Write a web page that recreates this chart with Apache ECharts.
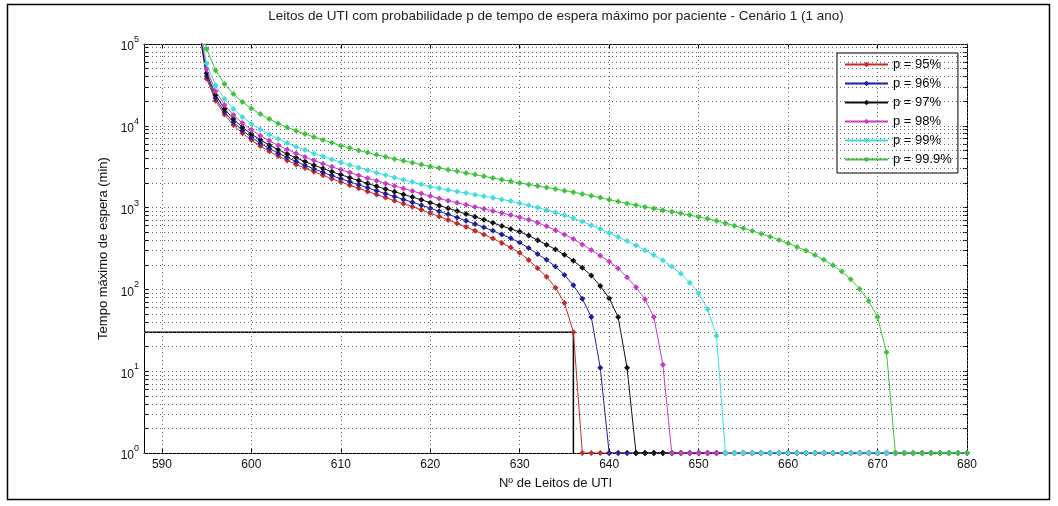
<!DOCTYPE html>
<html>
<head>
<meta charset="utf-8">
<script src="https://cdn.jsdelivr.net/npm/echarts@6/dist/echarts.min.js"></script>
<style>
  html, body { margin: 0; padding: 0; background: #fff; }
  #chart { width: 1058px; height: 506px; }
</style>
</head>
<body>
<div id="chart"></div>
<script>
// Nº de leitos (eixo x)
const leitos = [594,595,596,597,598,599,600,601,602,603,604,605,606,607,608,609,610,611,612,613,614,615,616,617,618,619,
  620,621,622,623,624,625,626,627,628,629,630,631,632,633,634,635,636,637,638,639,640,641,642,643,644,645,646,647,648,649,
  650,651,652,653,654,655,656,657,658,659,660,661,662,663,664,665,666,667,668,669,670,671,672,673,674,675,676,677,678,679,680]

// tempo máximo de espera (min) para cada p
const p95 = [190000,37600,20200,13700,10200,8120,6690,5650,4870,4260,3770,3360,3040,2740,2480,2250,2060,1880,1720,1575,1445,1325,1215,1115,1025,938,
  856,778,707,641,580,522,469,418,370,325,280,229,181,143,105,68,30,1,1,1,1,1,1,1,1,1,1,1,1,1,
  1,1,1,1,1,1,1,1,1,1,1,1,1,1,1,1,1,1,1,1,1,1,1,1,1,1,1,1,1,1,1]
const p96 = [200000,40400,21750,14720,11030,8770,7230,6120,5280,4630,4100,3665,3290,2970,2700,2460,2255,2070,1900,1745,1605,1480,1365,1260,1165,1070,
  982,902,827,757,692,631,574,520,469,421,374,320,270,230,190,150,112,77,46,11,1,1,1,1,1,1,1,1,1,1,
  1,1,1,1,1,1,1,1,1,1,1,1,1,1,1,1,1,1,1,1,1,1,1,1,1,1,1,1,1,1,1]
const p97 = [210000,44000,23700,16100,12070,9600,7940,6730,5810,5100,4525,4055,3650,3300,3005,2750,2520,2325,2140,1970,1820,1685,1560,1450,1345,1245,
  1150,1062,981,906,836,771,709,651,597,548,505,455,400,352,308,266,224,184,148,110,78,46,11,1,1,1,1,1,1,1,
  1,1,1,1,1,1,1,1,1,1,1,1,1,1,1,1,1,1,1,1,1,1,1,1,1,1,1,1,1,1,1]
const p98 = [220000,49100,26500,18000,13530,10790,8925,7580,6560,5770,5125,4600,4150,3770,3440,3150,2900,2680,2475,2290,2125,1975,1837,1712,1598,1486,
  1383,1290,1215,1145,1080,1020,965,910,860,810,760,710,655,590,530,470,412,355,303,258,220,180,141,106,76,46,12,1,1,1,
  1,1,1,1,1,1,1,1,1,1,1,1,1,1,1,1,1,1,1,1,1,1,1,1,1,1,1,1,1,1,1]
const p99 = [240000,57900,31300,21280,16030,12810,10620,9040,7840,6910,6155,5540,5050,4600,4210,3875,3580,3320,3080,2865,2670,2495,2335,2190,2055,1925,
  1800,1720,1645,1570,1505,1440,1380,1320,1260,1200,1130,1065,1000,935,870,805,740,675,610,548,490,436,390,345,302,263,227,190,156,121,
  90,57,27,1,1,1,1,1,1,1,1,1,1,1,1,1,1,1,1,1,1,1,1,1,1,1,1,1,1,1,1]
const p999 = [260000,87000,47500,32400,24500,19600,16300,13900,12100,10700,9600,8700,7950,7280,6700,6200,5720,5340,5000,4700,4420,4170,3940,3730,3540,3360,
  3190,3050,2910,2775,2650,2530,2410,2300,2195,2095,2000,1915,1835,1760,1685,1612,1540,1470,1400,1325,1250,1185,1125,1070,1020,975,930,890,850,810,
  770,730,690,645,600,558,518,478,440,402,366,331,297,263,230,197,165,133,101,72,46,17,1,1,1,1,1,1,1,1,1]

// linha de referência (30 min / 636 leitos)
const refX = [588, 636, 636]
const refY = [30, 30, 1]

// ticks e grades
const xTicks = [590,600,610,620,630,640,650,660,670,680]
const yGrid = [1,2,3,4,5,6,7,8,9,10,20,30,40,50,60,70,80,90,100,200,300,400,500,600,700,800,900,
  1000,2000,3000,4000,5000,6000,7000,8000,9000,10000,20000,30000,40000,50000,60000,70000,80000,90000,100000]

const nomes = ['p = 95%', 'p = 96%', 'p = 97%', 'p = 98%', 'p = 99%', 'p = 99.9%']
const cores = ['#c42a2a', '#1f1f9e', '#111111', '#c63cc6', '#3fdede', '#3cc43c']
const valores = [p95, p96, p97, p98, p99, p999]

const fonte = 'Liberation Sans, Arial, sans-serif'
const grade = { color: '#666', type: [1, 3], width: 1 }

const chart = echarts.init(document.getElementById('chart'))

const series = [
  {
    name: 'ref',
    type: 'line',
    data: refX.map((x, i) => [x, refY[i]]),
    symbol: 'none',
    lineStyle: { color: '#000', width: 1.5 },
    silent: true,
    z: 1,
    markLine: {
      silent: true,
      symbol: 'none',
      label: { show: false },
      lineStyle: grade,
      animation: false,
      data: xTicks.map(v => ({ xAxis: v })).concat(yGrid.map(v => ({ yAxis: v })))
    }
  }
]
valores.forEach((vals, k) => {
  series.push({
    name: nomes[k],
    type: 'line',
    data: leitos.map((x, i) => [x, vals[i]]),
    symbol: 'diamond',
    symbolSize: 6,
    clip: true,
    itemStyle: { color: cores[k] },
    lineStyle: { color: cores[k], width: 1 },
    z: 2 + k
  })
})

const eixoX = {
  type: 'value',
  min: 588,
  max: 680,
  axisLine: { onZero: false, lineStyle: { color: '#000', width: 1 } },
  axisTick: { show: true, inside: true, length: 5, customValues: xTicks, lineStyle: { color: '#000' } },
  splitLine: { show: false }
}
const eixoY = {
  type: 'log',
  logBase: 10,
  min: 1,
  max: 100000,
  axisLine: { show: true, lineStyle: { color: '#000', width: 1 } },
  axisTick: { show: true, inside: true, length: 4, customValues: yGrid, lineStyle: { color: '#000' } },
  splitLine: { show: false }
}

chart.setOption({
  animation: false,
  backgroundColor: '#fff',
  title: {
    text: 'Leitos de UTI com probabilidade p de tempo de espera máximo por paciente - Cenário 1 (1 ano)',
    left: 551,
    textAlign: 'center',
    top: 4,
    textStyle: { fontSize: 13.5, fontWeight: 'normal', color: '#222', fontFamily: fonte }
  },
  grid: { left: 144, right: 91, top: 44, bottom: 53 },
  legend: {
    data: nomes,
    orient: 'vertical',
    left: 837,
    top: 53,
    itemWidth: 43,
    itemHeight: 7,
    itemGap: 6,
    padding: [5, 6, 7, 7],
    borderColor: '#000',
    borderWidth: 1,
    backgroundColor: '#fff',
    textStyle: { fontSize: 13, color: '#000', fontFamily: fonte }
  },
  xAxis: [
    Object.assign({}, eixoX, {
      position: 'bottom',
      axisLabel: { customValues: xTicks, margin: 6, fontSize: 12, color: '#111', fontFamily: fonte },
      name: 'Nº de Leitos de UTI',
      nameLocation: 'middle',
      nameGap: 24,
      nameTextStyle: { fontSize: 13, color: '#111', fontFamily: fonte }
    }),
    Object.assign({}, eixoX, { position: 'top', axisLabel: { show: false } })
  ],
  yAxis: [
    Object.assign({}, eixoY, {
      position: 'left',
      axisLabel: {
        margin: 5,
        customValues: [1, 10, 100, 1000, 10000, 100000],
        formatter: v => '{b|10}{e|' + Math.round(Math.log10(v)) + '}',
        rich: {
          b: { fontSize: 12, color: '#111', fontFamily: fonte, lineHeight: 18, verticalAlign: 'bottom' },
          e: { fontSize: 9, color: '#111', fontFamily: fonte, lineHeight: 11, verticalAlign: 'top' }
        }
      },
      name: 'Tempo máximo de espera (min)',
      nameLocation: 'middle',
      nameGap: 34,
      nameTextStyle: { fontSize: 13, color: '#111', fontFamily: fonte }
    }),
    Object.assign({}, eixoY, { position: 'right', axisLabel: { show: false } })
  ],
  graphic: [
    {
      type: 'rect',
      shape: { x: 7.5, y: 4.5, width: 1042, height: 495 },
      style: { fill: 'none', stroke: '#000', lineWidth: 1.5 },
      silent: true,
      z: 100
    }
  ],
  series: series
})
</script>
</body>
</html>
